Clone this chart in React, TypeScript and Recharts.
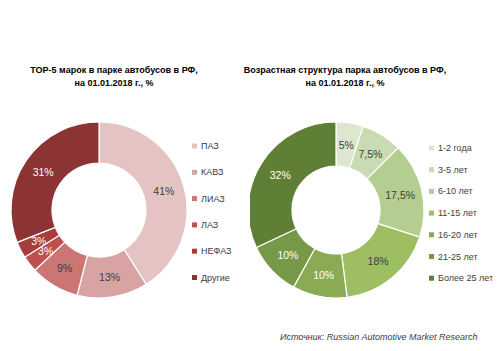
import { PieChart, Pie, Cell, Legend } from "recharts";

const brands = ["ПАЗ", "КАВЗ", "ЛИАЗ", "ЛАЗ", "НЕФАЗ", "Другие"];
const brandShare = [41, 13, 9, 3, 3, 31];
const brandLabels = ["41%", "13%", "9%", "3%", "3%", "31%"];
const brandColors = ["#e5c3c3", "#d9a3a3", "#cb7575", "#c04f4d", "#a63d3d", "#8c3434"];
const brandLabelColors = ["#404040", "#404040", "#404040", "#ffffff", "#ffffff", "#ffffff"];

const ages = ["1-2 года", "3-5 лет", "6-10 лет", "11-15 лет", "16-20 лет", "21-25 лет", "Более 25 лет"];
const ageShare = [5, 7.5, 17.5, 18, 10, 10, 32];
const ageLabels = ["5%", "7,5%", "17,5%", "18%", "10%", "10%", "32%"];
const ageColors = ["#dde7d0", "#cadbb4", "#b4cd90", "#9dbf62", "#8aab53", "#769847", "#5f7e36"];
const ageLabelColors = ["#404040", "#404040", "#404040", "#404040", "#ffffff", "#ffffff", "#ffffff"];

const FONT = "'Liberation Sans', Arial, sans-serif";
const RAD = Math.PI / 180;

function makeLabel(labels: string[], colors: string[]) {
  return (p: any) => {
    const r = (p.innerRadius + p.outerRadius) / 2;
    const x = p.cx + r * Math.cos(-p.midAngle * RAD);
    const y = p.cy + r * Math.sin(-p.midAngle * RAD);
    return (
      <text x={x} y={y} fill={colors[p.index]} fontSize={10.5} fontFamily={FONT} textAnchor="middle" dominantBaseline="central">
        {labels[p.index]}
      </text>
    );
  };
}

function makeLegend(names: string[], colors: string[], top: number, step: number, left: number) {
  return () => (
    <svg width={80} height={200} style={{ position: "absolute", left, top, overflow: "visible" }}>
      {names.map((n, i) => (
        <g key={n}>
          <rect x={0} y={i * step - 2.5} width={5} height={5} fill={colors[i]} />
          <text x={9} y={i * step} fontSize={9} fontFamily={FONT} fill="#404040" dominantBaseline="central">
            {n}
          </text>
        </g>
      ))}
    </svg>
  );
}

function Donut({ names, values, labels, colors, labelColors, cx, inner, legendTop, legendStep, legendLeft }: any) {
  const data = names.map((n: string, i: number) => ({ name: n, value: values[i] }));
  return (
    <PieChart width={250} height={351} style={{ position: "absolute", top: 0 }}>
      <Pie
        data={data}
        dataKey="value"
        nameKey="name"
        cx={cx}
        cy={205}
        innerRadius={inner}
        outerRadius={88}
        startAngle={90}
        endAngle={-270}
        stroke="#ffffff"
        strokeWidth={1.2}
        labelLine={false}
        label={makeLabel(labels, labelColors)}
        isAnimationActive={false}
      >
        {data.map((_: any, i: number) => (
          <Cell key={i} fill={colors[i]} />
        ))}
      </Pie>
      <Legend content={makeLegend(names, colors, legendTop, legendStep, legendLeft)} wrapperStyle={{ position: "absolute", left: 0, top: 0, width: 0, height: 0 }} />
    </PieChart>
  );
}

function Title({ lines, center }: { lines: string[]; center: number }) {
  return (
    <div
      style={{
        position: "absolute",
        left: center - 150,
        width: 300,
        top: 64,
        textAlign: "center",
        fontFamily: FONT,
        fontWeight: "bold",
        fontSize: 9,
        lineHeight: "13px",
        color: "#000",
        whiteSpace: "nowrap",
      }}
    >
      {lines[0]}
      <br />
      {lines[1]}
    </div>
  );
}

export default function App() {
  return (
    <div style={{ position: "absolute", left: 0, top: 0, width: 500, height: 351, background: "#fff" }}>
      <div style={{ position: "absolute", left: 0, top: 0 }}>
        <Donut
          names={brands}
          values={brandShare}
          labels={brandLabels}
          colors={brandColors}
          labelColors={brandLabelColors}
          cx={94}
          inner={47}
          legendTop={146}
          legendStep={26.3}
          legendLeft={192}
        />
      </div>
      <div style={{ position: "absolute", left: 250, top: 0 }}>
        <Donut
          names={ages}
          values={ageShare}
          labels={ageLabels}
          colors={ageColors}
          labelColors={ageLabelColors}
          cx={81}
          inner={44}
          legendTop={148}
          legendStep={21.7}
          legendLeft={179}
        />
      </div>
      <Title lines={["TOP-5 марок в парке автобусов в РФ,", "на 01.01.2018 г., %"]} center={114} />
      <Title lines={["Возрастная структура парка автобусов в РФ,", "на 01.01.2018 г., %"]} center={345} />
      <div
        style={{
          position: "absolute",
          left: 280,
          top: 332,
          fontFamily: FONT,
          fontStyle: "italic",
          fontSize: 9,
          color: "#404040",
          whiteSpace: "nowrap",
        }}
      >
        Источник: Russian Automotive Market Research
      </div>
    </div>
  );
}
